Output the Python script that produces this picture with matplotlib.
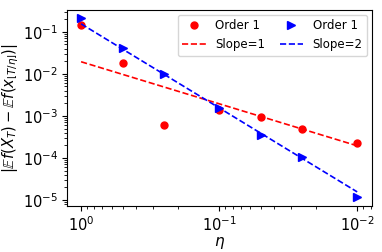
import matplotlib
matplotlib.use("Agg")
import matplotlib.pyplot as plt

# step sizes (x axis is inverted)
eta = [1.0, 0.5, 0.25, 0.1, 0.05, 0.025, 0.01]

# weak errors
err_red = [0.145, 0.0186, 6.1e-4, 1.35e-3, 9.3e-4, 4.9e-4, 2.2e-4]
err_blue = [0.21, 0.042, 0.0098, 1.5e-3, 3.5e-4, 1.05e-4, 1.15e-5]

# reference lines
slope1 = [0.0194, 0.0097, 0.00485, 0.00194, 0.00097, 0.000485, 0.000194]
slope2 = [0.155, 0.03875, 0.0096875, 0.00155, 0.0003875, 9.6875e-05, 1.55e-05]

fig = plt.figure(figsize=(3.82, 2.52), dpi=100)
ax = fig.add_axes([0.176, 0.183, 0.798, 0.778])

ax.plot(eta, err_red, "o", color="red", markersize=5, label="Order 1")
ax.plot(eta, slope1, "--", color="red", lw=1.2, label="Slope=1")
ax.plot(eta, err_blue, ">", color="blue", markersize=5.5, label="Order 1")
ax.plot(eta, slope2, "--", color="blue", lw=1.2, label="Slope=2")

ax.set_xscale("log")
ax.set_yscale("log")
ax.set_xlim(1.26, 0.0078)
ax.set_ylim(7.2e-6, 0.334)
ax.tick_params(labelsize=10.5, pad=3)

ax.set_xlabel(r"$\eta$", fontsize=11, labelpad=1)
ax.set_ylabel(r"$|\mathbb{E}f(X_T) - \mathbb{E}f(x_{\lfloor T/\eta\rfloor})|$",
              fontsize=10.5, labelpad=1.5)
ax.legend(ncol=2, loc="upper right", fontsize=8.5, handlelength=2.0,
          columnspacing=1.2, borderaxespad=0.4)

fig.savefig("out.png")
